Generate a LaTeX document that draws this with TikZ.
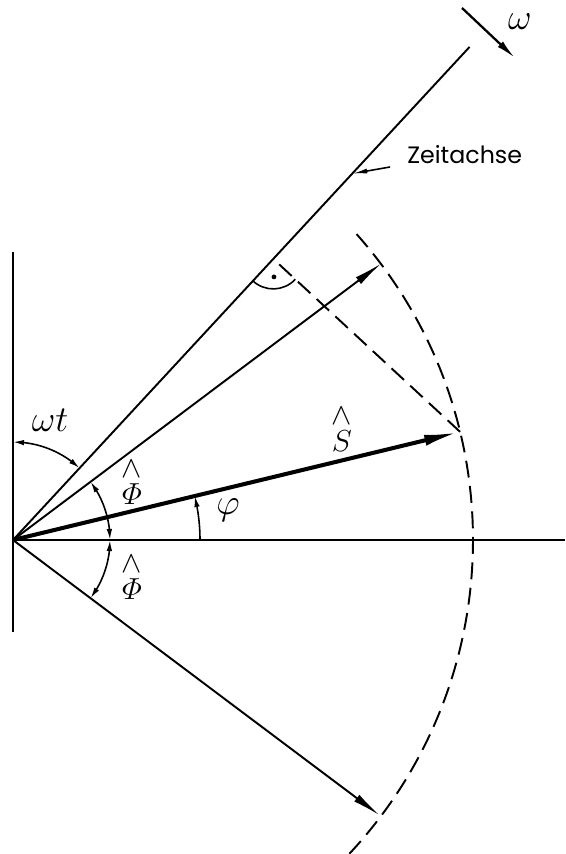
\documentclass[tikz,border=0pt]{standalone}
\usepackage{amsmath}
\usepackage{fontspec}
\newfontfamily\scritta{Poppins}
\usetikzlibrary{arrows.meta,bending,calc}

\begin{document}
\begin{tikzpicture}[x=0.02cm,y=0.02cm,
  linea/.style={line width=1.1pt},
  vettore/.style={line width=1.1pt, -{Latex[length=0.58cm,width=0.17cm]}},
  vettoreS/.style={line width=2.3pt, -{Latex[length=0.72cm,width=0.22cm]}},
  angolo/.style={line width=0.9pt, {Latex[length=0.22cm,width=0.11cm,flex]}-{Latex[length=0.22cm,width=0.11cm,flex]}},
  angolo1/.style={line width=0.9pt, -{Latex[length=0.22cm,width=0.11cm,flex]}},
  tratteggio/.style={line width=1.1pt, dash pattern=on 0.34cm off 0.17cm},
  simbolo/.style={font=\fontsize{21}{24}\selectfont, inner sep=0pt},
  cappello/.style={font=\fontsize{18}{20}\selectfont, inner sep=0pt}
]

% Riquadro
\useasboundingbox (0,0) rectangle (565,854);

% Angoli
\def\wt{47.2}
\def\ph{13.6}
\def\Ph{36.9}
\def\r{460}

% Punti
\coordinate (O) at (13,314);
\coordinate (V1) at (13,602);
\coordinate (V2) at (13,222);
\coordinate (H) at (565,314);
\coordinate (T) at ($(O)+(\wt:672)$);
\coordinate (A) at ($(O)+(\Ph:461)$);
\coordinate (S) at ($(O)+(\ph:\r)$);
\coordinate (B) at ($(O)+(-\Ph:459)$);
\coordinate (F) at ($(O)!(S)!(T)$);

% Assi
\draw[linea] (V1) -- (V2);
\draw[linea] (O) -- (H);
\draw[linea] (O) -- (T);

% Vettori
\draw[vettore] (O) -- (A);
\draw[vettore] (O) -- (B);
\draw[vettoreS] (O) -- (S);

% Tratteggi
\draw[tratteggio] ($(O)+(-43:\r)$) arc[start angle=-43,end angle=42,radius=\r];
\draw[tratteggio] (S) -- (F);

% Angolo retto
\draw[line width=0.9pt] ($(F)+(\wt+180:30)$) arc[start angle=\wt+180,end angle=\wt+270,radius=30];
\fill ($(F)+(\wt+225:18)$) circle (2.4);

% Archi
\draw[angolo] ($(O)+(90:98)$) arc[start angle=90,end angle=\wt,radius=98];
\draw[angolo] ($(O)+(0:97)$) arc[start angle=0,end angle=\Ph,radius=97];
\draw[angolo] ($(O)+(0:97)$) arc[start angle=0,end angle=-\Ph,radius=97];
\draw[angolo1] ($(O)+(0:187)$) arc[start angle=0,end angle=\ph,radius=187];

% Etichette
\node[simbolo] (wtl) at (50,434) {$\omega t$};
\node[cappello] (PhiSu) at (132,373) {$\overset{\textstyle\wedge}{\varPhi}$};
\node[cappello] (PhiGiu) at (132,278) {$\overset{\textstyle\wedge}{\varPhi}$};
\node[simbolo] (phil) at (228,344) {$\varphi$};
\node[cappello] (Sl) at (342,426) {$\overset{\textstyle\wedge}{S}$};
\node[simbolo] (oml) at (520,832) {$\omega$};

% Senso di rotazione
\coordinate (w1) at (462,846);
\coordinate (w2) at (515,796);
\draw[line width=1.3pt, -{Latex[length=0.4cm,width=0.15cm]}] (w1) -- (w2);

% Zeitachse
\node[font=\scritta\fontsize{13.5}{16}\selectfont, anchor=west, inner sep=0pt] (zeit) at (407,699) {Zeitachse};
\coordinate (Z) at ($(O)!0.743!(T)$);
\coordinate (Zc) at (390,687);
\draw[line width=0.9pt, -{Latex[length=0.3cm,width=0.1cm]}] (Zc) -- (Z);

\end{tikzpicture}
\end{document}
